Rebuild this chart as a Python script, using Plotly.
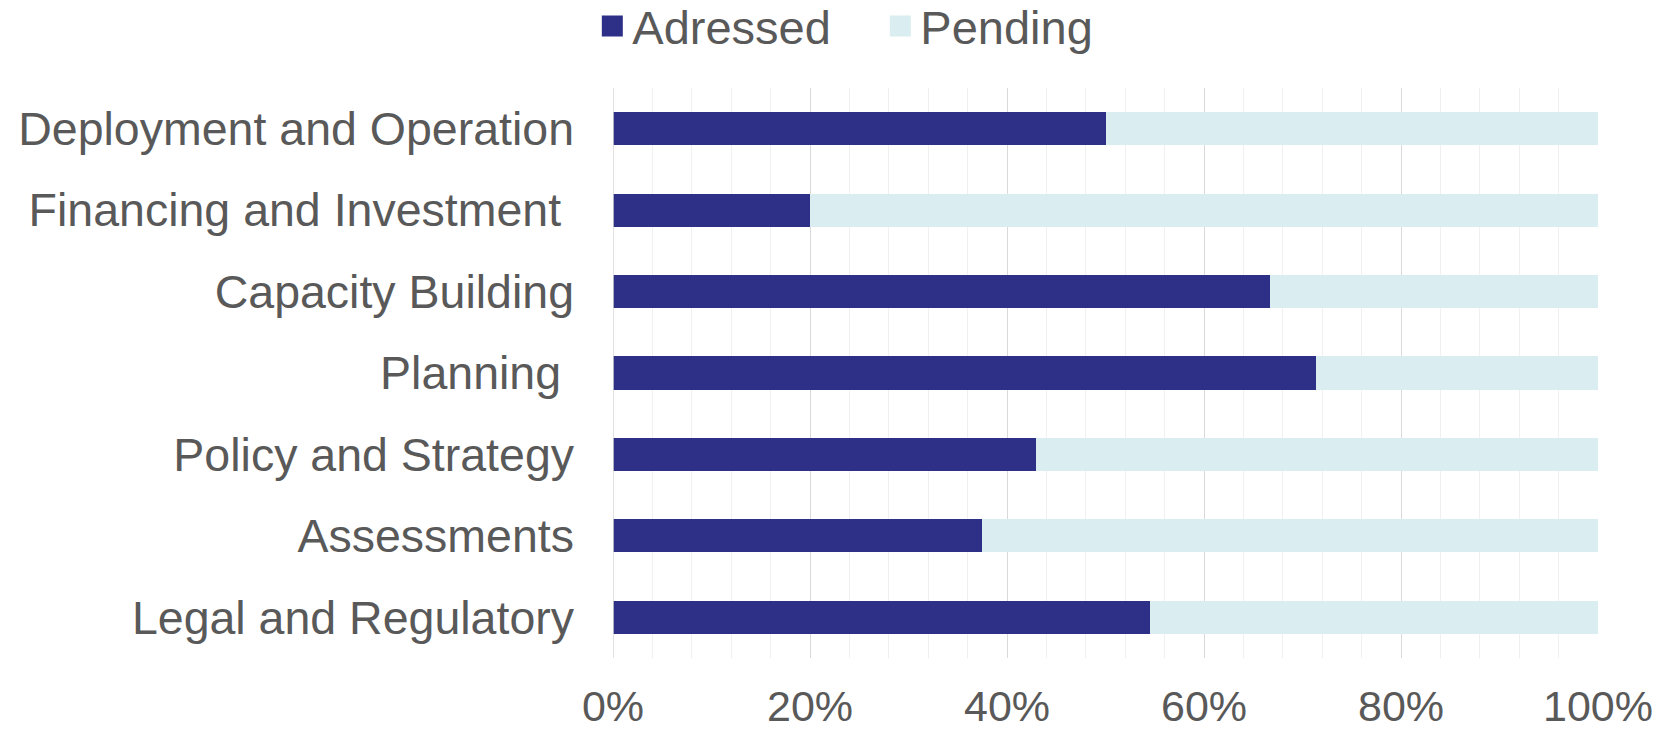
import plotly.graph_objects as go

categories = [
    "Deployment and Operation",
    "Financing and Investment\u00a0",
    "Capacity Building",
    "Planning\u00a0",
    "Policy and Strategy",
    "Assessments",
    "Legal and Regulatory",
]
addressed = [50.0, 20.0, 66.7, 71.4, 42.9, 37.5, 54.5]
pending = [round(100 - v, 1) for v in addressed]
x_ticks = [0, 20, 40, 60, 80, 100]
x_tick_labels = ["0%", "20%", "40%", "60%", "80%", "100%"]

C_ADDR = "#2E3088"
C_PEND = "#DAEDF0"
TXT = "#595959"
FONT = "Liberation Sans, Arial, sans-serif"

fig = go.Figure()
fig.add_trace(go.Bar(y=categories, x=addressed, orientation="h", name="Adressed",
                     marker=dict(color=C_ADDR, line=dict(width=0)), showlegend=False))
fig.add_trace(go.Bar(y=categories, x=pending, orientation="h", name="Pending",
                     marker=dict(color=C_PEND, line=dict(width=0)), showlegend=False))
# legend entries
fig.add_trace(go.Scatter(x=[None], y=[None], mode="markers", name="Adressed",
                         marker=dict(symbol="square", size=16, color=C_ADDR,
                                     line=dict(color=C_ADDR, width=5))))
fig.add_trace(go.Scatter(x=[None], y=[None], mode="markers", name="Pending",
                         marker=dict(symbol="square", size=16, color=C_PEND,
                                     line=dict(color=C_PEND, width=5))))

fig.update_layout(
    width=1666, height=731,
    margin=dict(l=613, r=68, t=88, b=73, autoexpand=False),
    barmode="stack",
    bargap=0.594,
    plot_bgcolor="white",
    paper_bgcolor="white",
    font=dict(family=FONT, color=TXT, size=46),
    legend=dict(orientation="h", x=-0.021, xanchor="left", y=1.108, yanchor="middle",
                traceorder="normal",
                font=dict(size=47, color=TXT), entrywidth=243, entrywidthmode="pixels",
                itemsizing="trace", bgcolor="rgba(0,0,0,0)"),
    xaxis=dict(range=[0, 100], tickvals=x_ticks, ticktext=x_tick_labels,
               showgrid=True, gridcolor="#D9D9D9", gridwidth=1,
               minor=dict(dtick=4, showgrid=True, gridcolor="#F0F0F0", gridwidth=1),
               zeroline=False, showline=False, ticks="",
               tickfont=dict(size=43, color=TXT), ticklabelstandoff=19),
    yaxis=dict(categoryorder="array", categoryarray=categories, autorange="reversed",
               showgrid=False, zeroline=False, showline=False, ticks="",
               tickfont=dict(size=46.5, color=TXT), ticklabelstandoff=38),
    shapes=[dict(type="line", xref="x", yref="paper", x0=0, x1=0, y0=0, y1=1,
                 line=dict(color="#D9D9D9", width=1.5), layer="above")],
)

fig.write_html("out.html", config={"displayModeBar": False},
               post_script="document.body.style.margin='0';document.body.style.overflow='hidden';")
